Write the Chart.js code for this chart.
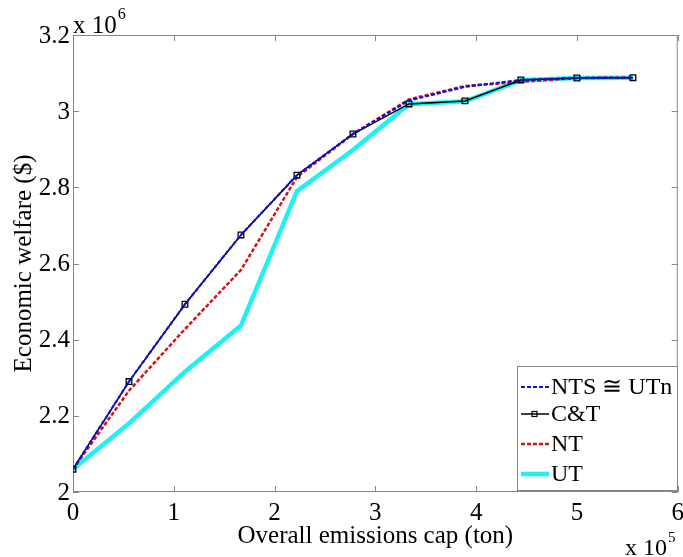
<!DOCTYPE html>
<html>
<head>
<meta charset="utf-8">
<script src="https://cdn.jsdelivr.net/npm/chart.js@4.4.1/dist/chart.umd.min.js"></script>
<style>
  html, body { margin: 0; padding: 0; background: #fff; }
  #wrap { width: 683px; height: 557px; }
</style>
</head>
<body>
<div id="wrap"><canvas id="welfareChart" width="683" height="557"></canvas></div>
<script>
// emissions cap (ton)
const caps = [0, 55556, 111111, 166667, 222222, 277778, 333333, 388889, 444444, 500000, 555556];
// economic welfare ($)
const ntsWelfare = [2060000, 2290000, 2493000, 2675000, 2832000, 2940000, 3028000, 3064000, 3082000, 3087000, 3088000];
const ctWelfare  = [2060000, 2290000, 2493000, 2675000, 2832000, 2940000, 3019000, 3027000, 3082000, 3087000, 3088000];
const ntWelfare  = [2060000, 2266000, 2428000, 2583000, 2827000, 2940000, 3031000, 3066000, 3077000, 3087000, 3088000];
const utWelfare  = [2060000, 2180000, 2316000, 2437000, 2790000, 2898000, 3018000, 3026000, 3081000, 3087000, 3088000];

const xTicks = [0, 100000, 200000, 300000, 400000, 500000, 600000];
const yTicks = [2000000, 2200000, 2400000, 2600000, 2800000, 3000000, 3200000];

const FONT = '"Liberation Serif", "Times New Roman", serif';
const AXIS_GRAY = '#858585';

function pts(ys) {
    return caps.map((c, i) => ({ x: c, y: ys[i] }));
}

// axes box, inward ticks, labels, multipliers and legend (MATLAB look)
const matlabAxes = {
    id: 'matlabAxes',
    beforeDatasetsDraw(chart) {
        const { ctx, chartArea: a, scales } = chart;
        ctx.save();
        ctx.strokeStyle = AXIS_GRAY;
        ctx.lineWidth = 1;
        ctx.strokeRect(a.left + 0.5, a.top + 0.5, a.right - a.left - 1, a.bottom - a.top - 1);
        ctx.beginPath();
        xTicks.forEach(v => {
            const px = Math.round(scales.x.getPixelForValue(v)) + 0.5;
            ctx.moveTo(px, a.bottom); ctx.lineTo(px, a.bottom - 6);
            ctx.moveTo(px, a.top); ctx.lineTo(px, a.top + 6);
        });
        yTicks.forEach(v => {
            const py = Math.round(scales.y.getPixelForValue(v)) + 0.5;
            ctx.moveTo(a.left, py); ctx.lineTo(a.left + 6, py);
            ctx.moveTo(a.right, py); ctx.lineTo(a.right - 6, py);
        });
        ctx.stroke();
        ctx.restore();
    },
    afterDraw(chart) {
        const { ctx, chartArea: a, scales } = chart;
        ctx.save();
        ctx.fillStyle = '#000';
        ctx.font = '25px ' + FONT;

        // tick labels
        ctx.textAlign = 'center';
        ctx.textBaseline = 'alphabetic';
        xTicks.forEach(v => {
            ctx.fillText(String(v / 100000), scales.x.getPixelForValue(v), 520);
        });
        ctx.textAlign = 'right';
        ctx.textBaseline = 'middle';
        yTicks.forEach(v => {
            const lbl = String(Math.round(v / 100000) / 10);
            ctx.fillText(lbl, a.left - 3, scales.y.getPixelForValue(v) + 1);
        });

        // axis titles
        ctx.textAlign = 'center';
        ctx.textBaseline = 'alphabetic';
        ctx.fillText('Overall emissions cap (ton)', (a.left + a.right) / 2, 543);
        ctx.save();
        ctx.translate(31, (a.top + a.bottom) / 2);
        ctx.rotate(-Math.PI / 2);
        ctx.fillText('Economic welfare ($)', 0, 0);
        ctx.restore();

        // exponent multipliers
        ctx.textAlign = 'left';
        ctx.font = '25px ' + FONT;
        ctx.fillText('x 10', a.left, 33);
        let w = ctx.measureText('x 10').width;
        ctx.font = '16px ' + FONT;
        ctx.fillText('6', a.left + w + 1, 19);
        ctx.font = '24px ' + FONT;
        ctx.fillText('x 10', 625, 555);
        w = ctx.measureText('x 10').width;
        ctx.font = '15px ' + FONT;
        ctx.fillText('5', 625 + w + 1, 542);

        // legend
        const lx = 517, ly = 366, lw = 160, lh = 124;
        ctx.fillStyle = '#fff';
        ctx.fillRect(lx, ly, lw, lh);
        ctx.strokeStyle = AXIS_GRAY;
        ctx.lineWidth = 1;
        ctx.strokeRect(lx + 0.5, ly + 0.5, lw, lh);
        const rows = [387, 414, 444, 474];
        ctx.font = '24px ' + FONT;
        ctx.textBaseline = 'middle';
        chart.data.datasets.forEach((ds, i) => {
            const y = rows[i];
            ctx.save();
            ctx.strokeStyle = ds.borderColor;
            ctx.lineWidth = ds.borderWidth;
            ctx.setLineDash(ds.borderDash || []);
            ctx.beginPath();
            ctx.moveTo(521, y); ctx.lineTo(549, y);
            ctx.stroke();
            if (ds.pointRadius > 0) {
                ctx.setLineDash([]);
                ctx.lineWidth = 1.2;
                ctx.strokeRect(532, y - 2.5, 5, 5);
            }
            ctx.restore();
            ctx.fillStyle = '#000';
            ctx.fillText(ds.label, 551, y + 1);
        });
        ctx.restore();
    }
};

const ctx = document.getElementById('welfareChart').getContext('2d');
new Chart(ctx, {
    type: 'line',
    data: {
        datasets: [
            {
                label: 'NTS \u2245 UTn',
                data: pts(ntsWelfare),
                borderColor: '#1010e0',
                borderWidth: 2.2,
                borderDash: [4, 2],
                pointRadius: 0
            },
            {
                label: 'C&T',
                data: pts(ctWelfare),
                borderColor: '#000000',
                borderWidth: 1.5,
                pointStyle: 'rect',
                pointRadius: 4,
                pointBorderWidth: 1.3,
                pointBackgroundColor: 'rgba(0,0,0,0)',
                pointBorderColor: '#000000'
            },
            {
                label: 'NT',
                data: pts(ntWelfare),
                borderColor: '#d41414',
                borderWidth: 2.5,
                borderDash: [4, 2],
                pointRadius: 0
            },
            {
                label: 'UT',
                data: pts(utWelfare),
                borderColor: '#1ff0f0',
                borderWidth: 4.5,
                pointRadius: 0
            }
        ]
    },
    options: {
        responsive: false,
        animation: false,
        devicePixelRatio: 1,
        layout: { padding: { top: 35, right: 4, left: 0, bottom: 0 } },
        elements: { line: { tension: 0 } },
        plugins: {
            legend: { display: false },
            tooltip: { enabled: false }
        },
        scales: {
            x: {
                type: 'linear',
                min: 0,
                max: 600000,
                grid: { display: false },
                border: { display: false },
                ticks: { display: false },
                afterFit: s => { s.height = 65; }
            },
            y: {
                type: 'linear',
                min: 2000000,
                max: 3200000,
                grid: { display: false },
                border: { display: false },
                ticks: { display: false },
                afterFit: s => { s.width = 73; }
            }
        }
    },
    plugins: [matlabAxes]
});
</script>
</body>
</html>
